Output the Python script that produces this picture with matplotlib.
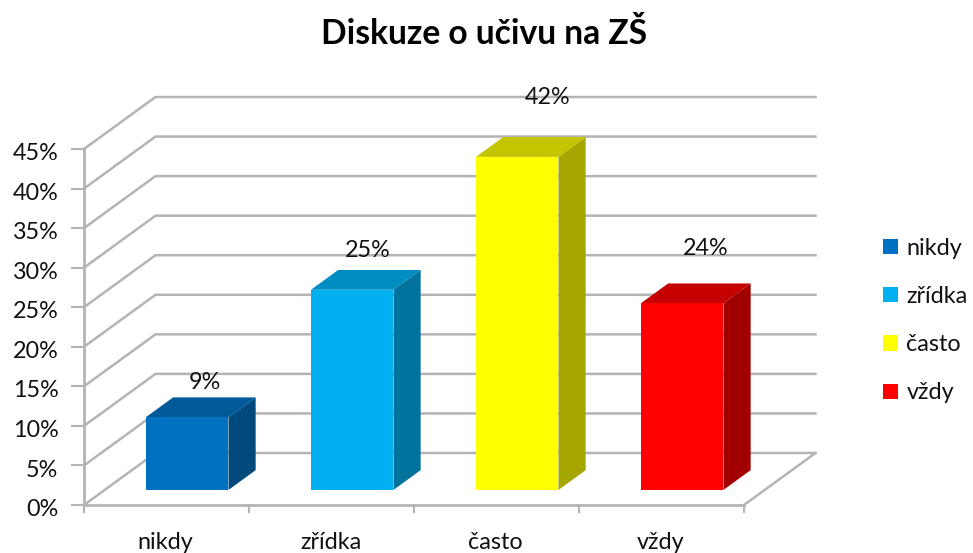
import matplotlib
matplotlib.use("Agg")
import matplotlib.pyplot as plt
from matplotlib.patches import Polygon, Patch

plt.rcParams['font.family'] = ['Lato', 'DejaVu Sans']

TITLE = "Diskuze o učivu na ZŠ"
categories = ["nikdy", "zřídka", "často", "vždy"]
values = [9.2, 25.3, 42.1, 23.6]
value_labels = ["9%", "25%", "42%", "24%"]
yticks = [0, 5, 10, 15, 20, 25, 30, 35, 40, 45]
front_colors = ["#0070C0", "#00B0F0", "#FFFF00", "#FF0000"]
top_colors = ["#005A9A", "#008DC0", "#C4C400", "#C40000"]
side_colors = ["#004A7E", "#00739C", "#A6A600", "#A00000"]
# the reference's data labels were moved by hand: offsets in pixels from the bar's top centre
label_dx = [3, 1, 15, 8]
label_dy = [-24, -28, -48, -44]

W, H = 973, 553
GRID = "#B4B4B4"
FS = 16.8

fig = plt.figure(figsize=(W / 100, H / 100), dpi=100)
ax = fig.add_axes([0, 0, 1, 1])
ax.axis("off")
# Data scale: front plane x=0 at px 84, x=4 at px 744; y=0 at px 505, y=45 at px 149
px_x = 165.0
px_y = 356 / 45
ax.set_xlim(-84 / px_x, 4 + (W - 744) / px_x)
ax.set_ylim(-(H - 505) / px_y, 45 + 149 / px_y)

DX, DY = 71.5 / px_x, 52 / px_y      # full chart depth in data units
D0, D1 = 0.29, 0.67                  # bar depth range as fraction of chart depth
BW = 0.5
n = len(categories)


def proj(x, y, d):
    return (x + DX * d, y + DY * d)


# Walls
for t in yticks:
    ax.plot([proj(0, t, 0)[0], proj(0, t, 1)[0], proj(n, t, 1)[0]],
            [proj(0, t, 0)[1], proj(0, t, 1)[1], proj(n, t, 1)[1]],
            color=GRID, lw=1.8, solid_joinstyle="miter", zorder=1)
    ax.plot([-0.07, 0], [t, t], color=GRID, lw=1.5, zorder=1)
    ax.text(-0.155, t - 0.58, f"{t}%", ha="right", va="center", fontsize=FS, color="#111111")

# Floor and axes
ax.plot([0, 0], [0, 45], color=GRID, lw=2, zorder=1)
ax.plot([0, n], [0, 0], color=GRID, lw=2, zorder=1)
ax.plot([n, proj(n, 0, 1)[0]], [0, proj(n, 0, 1)[1]], color=GRID, lw=1.8, zorder=1)
for i in range(n + 1):
    ax.plot([i, i], [0, -0.9], color=GRID, lw=1.5, zorder=1)

# Bars
for i, (c, v) in enumerate(zip(categories, values)):
    xl, xr = i + 0.5 - BW / 2, i + 0.5 + BW / 2
    a = proj(xl, 0, D0); b = proj(xr, 0, D0)
    c_ = proj(xr, v, D0); d = proj(xl, v, D0)
    e = proj(xr, 0, D1); f = proj(xr, v, D1); g = proj(xl, v, D1)
    ax.add_patch(Polygon([b, e, f, c_], closed=True, fc=side_colors[i], ec="none", zorder=3))
    ax.add_patch(Polygon([d, c_, f, g], closed=True, fc=top_colors[i], ec="none", zorder=3))
    ax.add_patch(Polygon([a, b, c_, d], closed=True, fc=front_colors[i], ec="none", zorder=4))
    lx, ly = proj(i + 0.5, v, 0.5)
    ax.annotate(value_labels[i], (lx, ly), xytext=(label_dx[i] * 0.72, -label_dy[i] * 0.72),
                textcoords="offset points", ha="center", va="center", fontsize=FS,
                color="#111111", zorder=5)
    ax.text(i + 0.5 - 0.006, -4.75, c, ha="center", va="center", fontsize=FS, color="#111111")

ax.text(4 + (484 - 744) / px_x, 45 + (149 - 34) / px_y, TITLE, ha="center", va="center",
        fontsize=24.2, fontweight="bold", color="black")

handles = [Patch(fc=col, ec="none", label=lab) for col, lab in zip(front_colors, categories)]
fig.legend(handles=handles, loc="center left", bbox_to_anchor=(883 / W, 1 - 320.5 / H),
           frameon=False, fontsize=FS, handlelength=0.64, handleheight=0.64,
           handletextpad=0.36, labelspacing=1.17, borderpad=0, borderaxespad=0,
           labelcolor="#111111")

fig.savefig("out.png", dpi=100)
